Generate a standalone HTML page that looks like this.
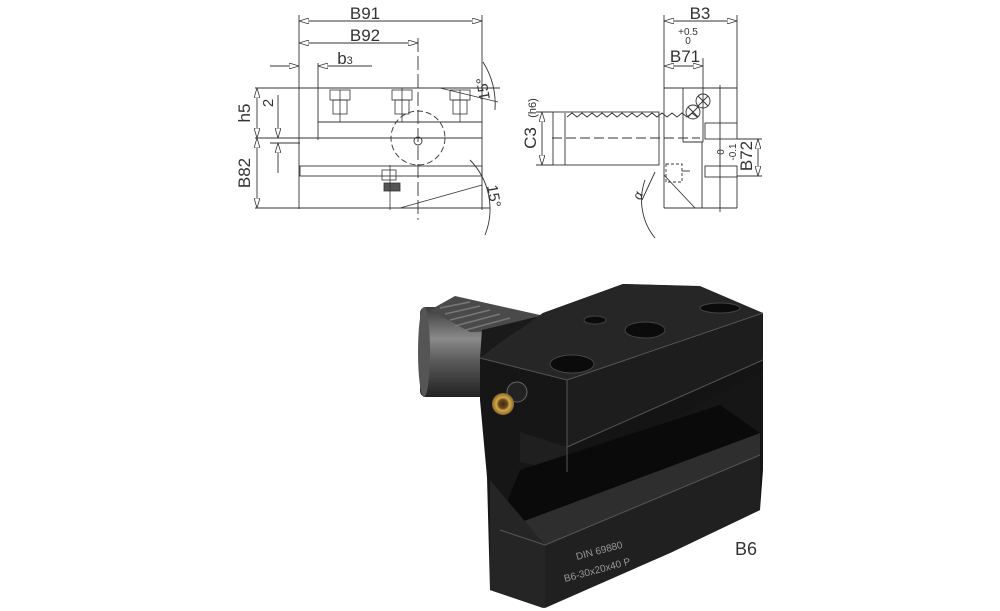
<!DOCTYPE html>
<html><head><meta charset="utf-8"><style>
html,body{margin:0;padding:0;background:#fff;}
svg{display:block;}
text{font-family:"Liberation Sans",sans-serif;fill:#333;}
</style></head><body>
<svg width="1000" height="611" viewBox="0 0 1000 611" xmlns="http://www.w3.org/2000/svg">
<defs>
<marker id="a" viewBox="0 0 10 6" refX="10" refY="3" markerWidth="10" markerHeight="6" orient="auto-start-reverse" markerUnits="userSpaceOnUse"><path d="M0,0 L10,3 L0,6 Z" fill="#fff" stroke="#333" stroke-width="0.8"/></marker>
<linearGradient id="shank" x1="0" y1="0" x2="0" y2="1"><stop offset="0" stop-color="#3a3a3a"/><stop offset="0.35" stop-color="#8a8a8a"/><stop offset="0.6" stop-color="#5a5a5a"/><stop offset="1" stop-color="#222"/></linearGradient>
<radialGradient id="brass"><stop offset="0" stop-color="#3a2a10"/><stop offset="0.4" stop-color="#6a4a1a"/><stop offset="0.6" stop-color="#d4a84a"/><stop offset="1" stop-color="#8a6a2a"/></radialGradient>
</defs>

<!-- LEFT DRAWING -->
<g stroke="#333" stroke-width="0.9" fill="none">
<line x1="299" y1="15" x2="299" y2="209"/>
<line x1="482" y1="15" x2="482" y2="210"/>
<line x1="299" y1="21" x2="482" y2="21" marker-start="url(#a)" marker-end="url(#a)"/>
<line x1="299" y1="43" x2="418" y2="43" marker-start="url(#a)" marker-end="url(#a)"/>
<line x1="418" y1="38" x2="418" y2="220" stroke-dasharray="14,4"/>
<line x1="270" y1="66" x2="299" y2="66" marker-end="url(#a)"/>
<line x1="318" y1="66" x2="372" y2="66"/>
<line x1="340" y1="66" x2="318" y2="66" marker-end="url(#a)"/>
<line x1="318" y1="63" x2="318" y2="140"/>
<line x1="255" y1="88" x2="500" y2="88"/>
<line x1="318" y1="122" x2="482" y2="122"/>
<line x1="255" y1="138" x2="318" y2="138"/>
<line x1="318" y1="138" x2="482" y2="138"/>
<rect x="300" y="166" width="182" height="10"/>
<line x1="255" y1="208" x2="490" y2="208"/>
<line x1="257" y1="88" x2="257" y2="138" marker-start="url(#a)" marker-end="url(#a)"/>
<line x1="257" y1="138" x2="257" y2="208" marker-start="url(#a)" marker-end="url(#a)"/>
<line x1="278" y1="95" x2="278" y2="138" marker-end="url(#a)"/>
<line x1="278" y1="173" x2="278" y2="143" marker-end="url(#a)"/>
<line x1="270" y1="143" x2="300" y2="143"/>
<circle cx="418" cy="138" r="27" stroke-dasharray="6,3"/>
<circle cx="418" cy="141" r="4"/>
<g stroke-width="0.8">
<rect x="330" y="90" width="20" height="10"/><rect x="333" y="100" width="14" height="14"/><line x1="340" y1="90" x2="340" y2="122"/>
<rect x="392" y="90" width="20" height="10"/><rect x="395" y="100" width="14" height="14"/><line x1="402" y1="88" x2="402" y2="122"/>
<rect x="450" y="90" width="20" height="10"/><rect x="453" y="100" width="14" height="14"/><line x1="460" y1="90" x2="460" y2="122"/>
<rect x="382" y="170" width="14" height="10"/><rect x="384" y="183" width="16" height="8" fill="#555"/><line x1="390" y1="165" x2="390" y2="210"/>
</g>
<path d="M483,62 A80,80 0 0 1 495,110"/>
<line x1="440" y1="88" x2="498" y2="102"/>
<path d="M470,160 A70,70 0 0 1 485,235"/>
<line x1="400" y1="208" x2="482" y2="185"/>
</g>
<text x="365" y="19" font-size="17" text-anchor="middle">B91</text>
<text x="365" y="41" font-size="17" text-anchor="middle">B92</text>
<text x="345" y="64" font-size="17" text-anchor="middle">b<tspan font-size="11">3</tspan></text>
<text transform="translate(250,113) rotate(-90)" font-size="17" text-anchor="middle">h5</text>
<text transform="translate(273,103) rotate(-90)" font-size="15" text-anchor="middle">2</text>
<text transform="translate(250,173) rotate(-90)" font-size="17" text-anchor="middle">B82</text>
<text transform="translate(488,88) rotate(-100)" font-size="15" text-anchor="middle">15°</text>
<text transform="translate(489,197) rotate(80)" font-size="15" text-anchor="middle">15°</text>

<!-- RIGHT DRAWING -->
<g stroke="#333" stroke-width="0.9" fill="none">
<line x1="664" y1="15" x2="664" y2="208"/>
<line x1="737" y1="15" x2="737" y2="123"/>
<line x1="664" y1="21" x2="737" y2="21" marker-start="url(#a)" marker-end="url(#a)"/>
<line x1="664" y1="66" x2="703" y2="66" marker-start="url(#a)" marker-end="url(#a)"/>
<line x1="703" y1="58" x2="703" y2="142"/>
<line x1="664" y1="88" x2="737" y2="88"/>
<line x1="683" y1="88" x2="683" y2="142"/>
<line x1="683" y1="142" x2="703" y2="142"/>
<line x1="702" y1="142" x2="702" y2="208"/>
<rect x="705" y="123" width="32" height="16"/>
<rect x="705" y="166" width="32" height="11"/>
<line x1="737" y1="177" x2="737" y2="208"/>
<line x1="664" y1="208" x2="737" y2="208"/>
<line x1="720" y1="85" x2="720" y2="212"/>
<line x1="664" y1="175" x2="695" y2="208"/>
<circle cx="693" cy="112" r="7"/><circle cx="703" cy="101" r="7"/>
<path d="M688,107 l10,10 M698,107 l-10,10 M698,96 l10,10 M708,96 l-10,10"/>
<rect x="553" y="112" width="106" height="53"/>
<line x1="565" y1="113" x2="565" y2="165"/>
<path d="M567,117 l5,-4 l5,4 l5,-4 l5,4 l5,-4 l5,4 l5,-4 l5,4 l5,-4 l5,4 l5,-4 l5,4 l5,-4 l5,4 l5,-4 l5,4 l5,-4 l5,4 l5,-4 l5,4 l5,-4 l5,4 l5,-4 l5,4 l5,-4 l5,4"/>
<line x1="552" y1="138" x2="700" y2="138" stroke-dasharray="10,4"/>
<line x1="536" y1="112" x2="553" y2="112"/><line x1="536" y1="165" x2="553" y2="165"/>
<line x1="542" y1="112" x2="542" y2="165" marker-start="url(#a)" marker-end="url(#a)"/>
<line x1="737" y1="139" x2="762" y2="139"/><line x1="737" y1="176" x2="762" y2="176"/>
<line x1="758" y1="139" x2="758" y2="176" marker-start="url(#a)" marker-end="url(#a)"/>
<rect x="666" y="164" width="16" height="18" stroke-dasharray="3,2"/>
<line x1="682" y1="171" x2="690" y2="171"/>
<path d="M645,180 A60,60 0 0 0 655,238"/>
<line x1="655" y1="172" x2="642" y2="200"/>
</g>
<text x="700" y="19" font-size="17" text-anchor="middle">B3</text>
<text x="688" y="35" font-size="10" text-anchor="middle">+0.5</text>
<text x="688" y="44" font-size="10" text-anchor="middle">0</text>
<text x="685" y="62" font-size="17" text-anchor="middle">B71</text>
<text transform="translate(536,138) rotate(-90)" font-size="17" text-anchor="middle">C3</text>
<text transform="translate(536,108) rotate(-90)" font-size="11" text-anchor="middle">(h6)</text>
<text transform="translate(752,156) rotate(-90)" font-size="17" text-anchor="middle">B72</text>
<text transform="translate(724,152) rotate(-90)" font-size="10" text-anchor="middle">0</text>
<text transform="translate(736,152) rotate(-90)" font-size="10" text-anchor="middle">-0.1</text>
<text transform="translate(642,197) rotate(-70)" font-size="13" text-anchor="middle" font-style="italic">α</text>

<!-- PHOTO -->
<rect x="420" y="307" width="70" height="90" rx="6" fill="url(#shank)"/>
<ellipse cx="424" cy="352" rx="6" ry="45" fill="#555"/>
<polygon points="430,310 455,296 540,315 540,330 470,332" fill="#4a4a4a"/>
<g stroke="#777" stroke-width="1.5">
<line x1="440" y1="308" x2="470" y2="302"/><line x1="445" y1="314" x2="480" y2="306"/><line x1="450" y1="320" x2="490" y2="310"/><line x1="455" y1="326" x2="500" y2="314"/><line x1="462" y1="331" x2="510" y2="318"/>
</g>
<polygon points="482,330 540,316 543,313 480,358" fill="#1a1a1a"/>
<polygon points="480,358 543,313 623,284 690,286 763,313 763,470 760,510 670,553 543,608 490,590 487,477 480,400" fill="#161616"/>
<polygon points="480,358 543,313 623,284 700,286 763,313 567,380" fill="#262626"/>
<polygon points="567,380 763,313 763,360 567,447" fill="#1d1d1d"/>
<polygon points="567,447 763,360 763,372 567,472" fill="#141414"/>
<polygon points="520,432 567,447 567,472 520,462" fill="#1f1f1f"/>
<polygon points="500,530 760,433 760,455 545,545" fill="#2e2e2e"/>
<polygon points="500,520 520,470 720,405 760,433 500,530" fill="#0a0a0a"/>
<polygon points="545,545 760,455 760,510 670,553 545,608" fill="#202020"/>
<polygon points="490,480 545,545 545,608 490,590" fill="#252525"/>
<g stroke="#555" stroke-width="1" fill="none">
<polyline points="480,358 567,380 763,313"/>
<line x1="567" y1="380" x2="567" y2="472"/>
<line x1="567" y1="447" x2="763" y2="360"/>
<line x1="500" y1="530" x2="545" y2="545"/><line x1="545" y1="545" x2="760" y2="455"/>
</g>
<ellipse cx="572" cy="364" rx="22" ry="9" fill="#0b0b0b" stroke="#444"/>
<ellipse cx="645" cy="330" rx="20" ry="8" fill="#0b0b0b" stroke="#444"/>
<ellipse cx="595" cy="320" rx="11" ry="4" fill="#0b0b0b" stroke="#444"/>
<ellipse cx="720" cy="308" rx="20" ry="5" fill="#0b0b0b" stroke="#444"/>
<circle cx="517" cy="392" r="10" fill="#222" stroke="#666"/>
<circle cx="503" cy="404" r="11" fill="url(#brass)"/>
<text transform="translate(577,560) rotate(-15)" font-size="10" style="fill:#999">DIN 69880</text>
<text transform="translate(565,582) rotate(-15)" font-size="10" style="fill:#999">B6-30x20x40 P</text>
<text x="735" y="555" font-size="18">B6</text>
</svg>
</body></html>
